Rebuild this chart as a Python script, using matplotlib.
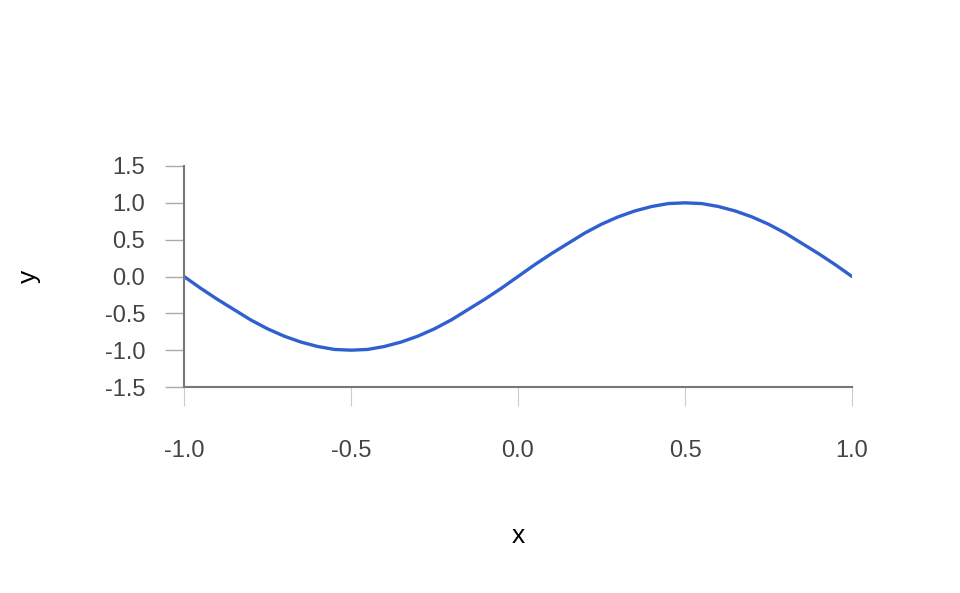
import matplotlib
matplotlib.use('Agg')
import matplotlib.pyplot as plt

# points
x = [-1.0, -0.95, -0.9, -0.85, -0.8, -0.75, -0.7, -0.65, -0.6, -0.55, -0.5,
     -0.45, -0.4, -0.35, -0.3, -0.25, -0.2, -0.15, -0.1, -0.05, 0.0,
     0.05, 0.1, 0.15, 0.2, 0.25, 0.3, 0.35, 0.4, 0.45, 0.5,
     0.55, 0.6, 0.65, 0.7, 0.75, 0.8, 0.85, 0.9, 0.95, 1.0]
y = [0.0, -0.16, -0.31, -0.45, -0.59, -0.71, -0.81, -0.89, -0.95, -0.99, -1.0,
     -0.99, -0.95, -0.89, -0.81, -0.71, -0.59, -0.45, -0.31, -0.16, 0.0,
     0.16, 0.31, 0.45, 0.59, 0.71, 0.81, 0.89, 0.95, 0.99, 1.0,
     0.99, 0.95, 0.89, 0.81, 0.71, 0.59, 0.45, 0.31, 0.16, 0.0]

xticks = [-1.0, -0.5, 0.0, 0.5, 1.0]
yticks = [-1.5, -1.0, -0.5, 0.0, 0.5, 1.0, 1.5]

plt.rcParams['font.family'] = ['Liberation Sans', 'DejaVu Sans']

fig = plt.figure(figsize=(9.6, 5.93), dpi=100)
ax = fig.add_axes([184/960, 1-387/593, (852-184)/960, (387-166)/593])

ax.plot(x, y, color='#3060d0', lw=2.4, solid_capstyle='round', solid_joinstyle='round')

ax.set_xlim(-1, 1)
ax.set_ylim(-1.5, 1.5)
ax.set_xticks(xticks)
ax.set_yticks(yticks)
ax.set_xticklabels(['%.1f' % v for v in xticks])
ax.set_yticklabels(['%.1f' % v for v in yticks])

for s in ['top', 'right']:
    ax.spines[s].set_visible(False)
for s in ['left', 'bottom']:
    ax.spines[s].set_color('#777777')
    ax.spines[s].set_linewidth(1.5)

ax.tick_params(axis='y', length=14, width=1, color='#aaaaaa', pad=14,
               labelsize=17, labelcolor='#444444')
ax.tick_params(axis='x', length=14, width=0.8, color='#cccccc', pad=24,
               labelsize=17, labelcolor='#444444')

ax.set_xlabel('x', fontsize=19, labelpad=45)
ax.set_ylabel('y', fontsize=19, labelpad=46)

fig.savefig('out.png', dpi=100)
